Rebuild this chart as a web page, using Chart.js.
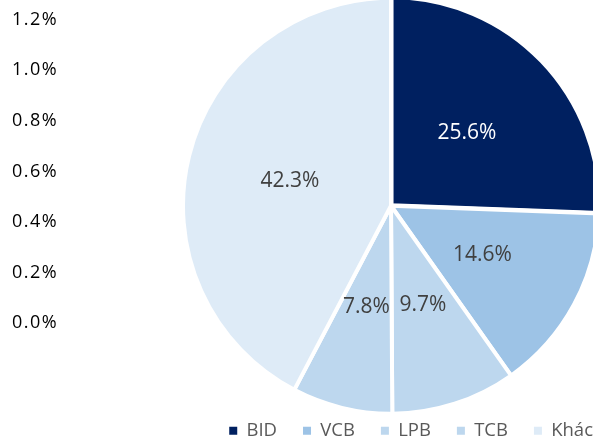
<!DOCTYPE html>
<html>
<head>
<meta charset="utf-8">
<script src="https://cdn.jsdelivr.net/npm/chart.js@4"></script>
<style>
  html, body { margin: 0; padding: 0; background: #fff; }
  #wrap { width: 593px; height: 442px; }
</style>
</head>
<body>
<div id="wrap"><canvas id="grafico" width="593" height="442"></canvas></div>
<script>
// ===== Datos =====
const categorias = ["BID", "VCB", "LPB", "TCB", "Khác"];
const participacion = [25.6, 14.6, 9.7, 7.8, 42.3];
const colores = ["#002060", "#9dc3e6", "#bdd7ee", "#bdd7ee", "#deebf7"];
const colorEtiqueta = ["#ffffff", "#404040", "#404040", "#404040", "#404040"];
// eje fantasma a la izquierda (viene del gráfico original)
const ejeValores = [0, 0.2, 0.4, 0.6, 0.8, 1.0, 1.2];
const ejeEtiquetas = ["0.0%", "0.2%", "0.4%", "0.6%", "0.8%", "1.0%", "1.2%"];

const FUENTE = "'Open Sans', 'Noto Sans', sans-serif";
const SUBIR_LEYENDA = 14; // la leyenda se monta sobre el área del gráfico

// etiquetas de porcentaje dentro de cada sector
const etiquetasPie = {
  id: "etiquetasPie",
  afterLayout(chart) {
    // el eje original tiene letras más anchas
    const s = chart.scales.y;
    if (s && !s._ajustado) {
      const orig = s.drawLabels.bind(s);
      s.drawLabels = function(area) {
        this.ctx.save();
        this.ctx.letterSpacing = "1.5px";
        orig(area);
        this.ctx.restore();
      };
      s._ajustado = true;
    }
    const lg = chart.legend;
    if (lg) {
      lg.top -= SUBIR_LEYENDA;
      lg.bottom -= SUBIR_LEYENDA;
    }
  },
  afterDatasetsDraw(chart) {
    const ctx = chart.ctx;
    const meta = chart.getDatasetMeta(0);
    ctx.save();
    ctx.font = "21px " + FUENTE;
    ctx.textAlign = "center";
    ctx.textBaseline = "middle";
    meta.data.forEach((arc, i) => {
      const p = arc.tooltipPosition();
      ctx.fillStyle = colorEtiqueta[i];
      ctx.fillText(participacion[i].toFixed(1) + "%", p.x, p.y);
    });
    ctx.restore();
  }
};

const ctx = document.getElementById("grafico").getContext("2d");
const chart = new Chart(ctx, {
  type: "pie",
  data: {
    labels: categorias,
    datasets: [{
      data: participacion,
      backgroundColor: colores,
      borderColor: "#ffffff",
      borderWidth: 4,
      offset: [3, 0, 0, 0, 0],
      clip: false
    }]
  },
  options: {
    responsive: false,
    animation: false,
    radius: 208,
    layout: { padding: { left: 12, right: -26, top: 2, bottom: -22 } },
    scales: {
      y: {
        type: "linear",
        position: "left",
        min: -0.3418,
        max: 1.2701,
        grid: { display: false },
        border: { display: false },
        afterFit: s => { s.width = 177; s.paddingTop = 0; s.paddingBottom = 0; },
        afterBuildTicks: s => { s.ticks = ejeValores.map(v => ({ value: v })); },
        ticks: {
          crossAlign: "far",
          color: "#000000",
          font: { family: FUENTE, size: 18 },
          callback: (v) => {
            const i = ejeValores.findIndex(e => Math.abs(e - v) < 1e-6);
            return i >= 0 ? ejeEtiquetas[i] : "";
          }
        }
      }
    },
    plugins: {
      legend: {
        position: "bottom",
        align: "end",
        labels: {
          boxWidth: 8,
          boxHeight: 8,
          padding: 26,
          color: "#595959",
          font: { family: FUENTE, size: 18.5 },
          generateLabels: (c) => {
            const items = Chart.overrides.pie.plugins.legend.labels.generateLabels(c);
            // cuadritos sin el borde blanco de los sectores
            items.forEach(it => { it.lineWidth = 0; it.strokeStyle = it.fillStyle; });
            return items;
          }
        }
      },
      tooltip: { enabled: false }
    }
  },
  plugins: [etiquetasPie]
});
</script>
</body>
</html>
